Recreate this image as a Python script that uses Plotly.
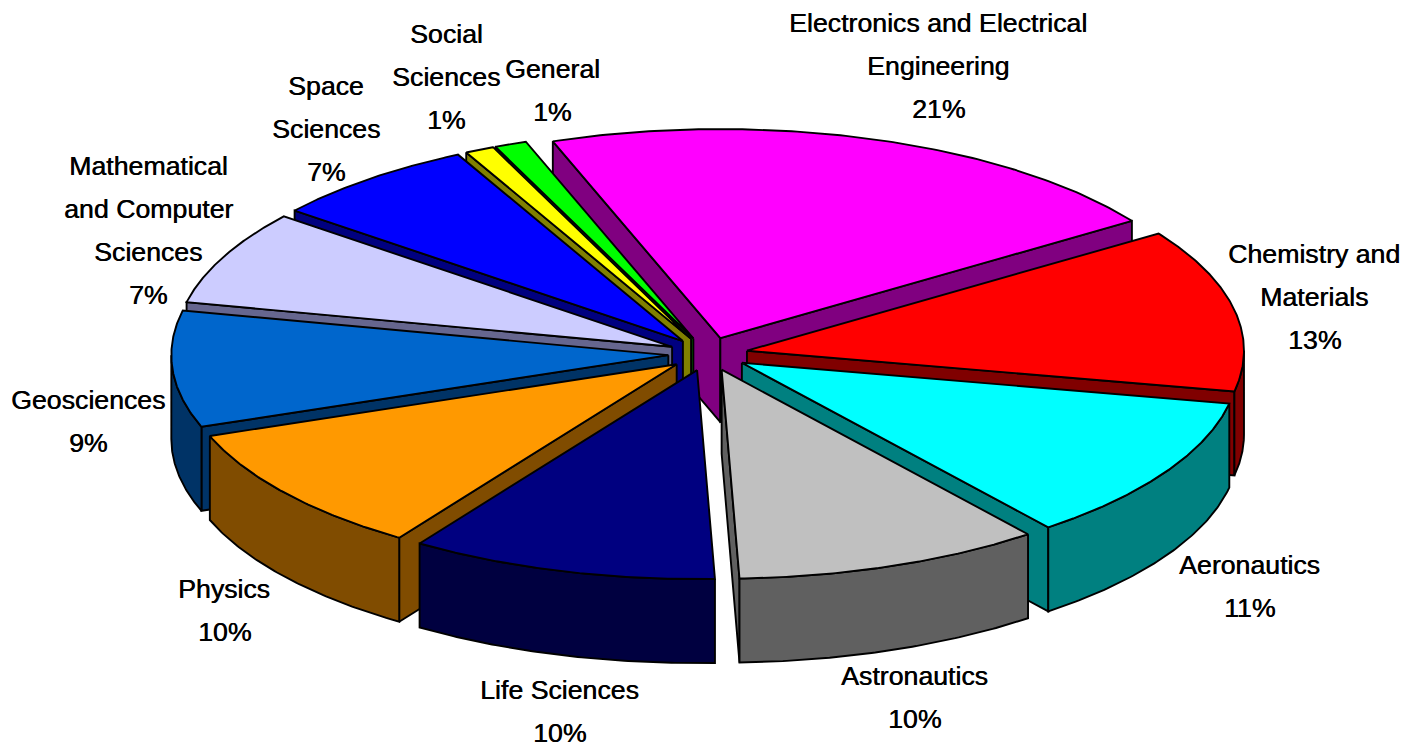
import numpy as np
import plotly.graph_objects as go

categories = ["Electronics and Electrical Engineering", "Chemistry and Materials", "Aeronautics",
              "Astronautics", "Life Sciences", "Physics", "Geosciences",
              "Mathematical and Computer Sciences", "Space Sciences", "Social Sciences", "General"]
values = [21.0, 12.6, 11.3, 10.0, 10.0, 10.0, 9.0, 7.3, 6.8, 0.95, 1.05]
label_lines = [["Electronics and Electrical", "Engineering"], ["Chemistry and", "Materials"], ["Aeronautics"],
               ["Astronautics"], ["Life Sciences"], ["Physics"], ["Geosciences"],
               ["Mathematical", "and Computer", "Sciences"], ["Space", "Sciences"], ["Social", "Sciences"], ["General"]]
top_colors = ["#FF00FF", "#FF0000", "#00FFFF", "#C0C0C0", "#000080", "#FF9900", "#0066CC",
              "#CCCCFF", "#0000FF", "#FFFF00", "#00FF00"]
side_colors = ["#800080", "#800000", "#008080", "#606060", "#000040", "#804C00", "#003366",
               "#66668F", "#000080", "#808000", "#008000"]
label_x = [938, 1314, 1249, 914, 559, 224, 88, 148, 326, 446, 552]
label_y = [23, 254, 565, 676, 690, 589, 400, 166, 86, 34, 69]

CX, CY, A, B, DEPTH, EXPLODE, START = 708, 354, 497, 209, 84, 0.08, -19.7
LINE_STEP = 43

fig = go.Figure()


def poly(xs, ys, color):
    fig.add_trace(go.Scatter(x=np.r_[xs, xs[0]], y=np.r_[ys, ys[0]], mode="lines", fill="toself", fillcolor=color,
                             line=dict(color="black", width=1.9), hoverinfo="skip", showlegend=False))


edges = START + np.cumsum([0] + values) * 3.6
slices = []
for i, v in enumerate(values):
    t0, t1 = edges[i], edges[i + 1]
    slices.append((np.cos(np.radians((t0 + t1) / 2)), i, t0, t1))

for _, i, t0, t1 in sorted(slices, key=lambda s: -s[0]):
    mid = np.radians((t0 + t1) / 2)
    ax = CX + EXPLODE * A * np.sin(mid)
    ay = CY - EXPLODE * B * np.cos(mid)
    rim = lambda deg: (ax + A * np.sin(np.radians(deg)), ay - B * np.cos(np.radians(deg)))
    side = side_colors[i]
    # radial walls
    for deg, visible in ((t0, np.sin(np.radians(t0)) < 0), (t1, np.sin(np.radians(t1)) > 0)):
        if visible:
            rx, ry = rim(deg)
            poly(np.array([ax, rx, rx, ax]), np.array([ay, ry, ry + DEPTH, ay + DEPTH]), side)
    # outer wall: only the part of the rim that faces the viewer
    lo, hi = max(t0, 90), min(t1, 270)
    if hi > lo:
        th = np.linspace(lo, hi, 80)
        rx, ry = rim(th)
        poly(np.r_[rx, rx[::-1]], np.r_[ry, ry[::-1] + DEPTH], side)
    th = np.linspace(t0, t1, 120)
    rx, ry = rim(th)
    poly(np.r_[ax, rx], np.r_[ay, ry], top_colors[i])

for i, lines in enumerate(label_lines):
    for k, txt in enumerate(lines + [f"{values[i]:.0f}%"]):
        fig.add_annotation(x=label_x[i], y=label_y[i] + k * LINE_STEP, text=txt, showarrow=False,
                           xanchor="center", yanchor="middle", borderpad=0,
                           font=dict(family="Liberation Sans", size=26.7, color="black",
                                     shadow="0.5px 0 0 #000"))

fig.update_layout(width=1407, height=748, margin=dict(l=0, r=0, t=0, b=0), paper_bgcolor="white",
                  plot_bgcolor="white", showlegend=False,
                  xaxis=dict(range=[0, 1407], visible=False, fixedrange=True),
                  yaxis=dict(range=[748, 0], visible=False, fixedrange=True))
fig.write_html("out.html", config=dict(displayModeBar=False),
               post_script="document.body.style.margin='0';document.body.style.overflow='hidden';")
